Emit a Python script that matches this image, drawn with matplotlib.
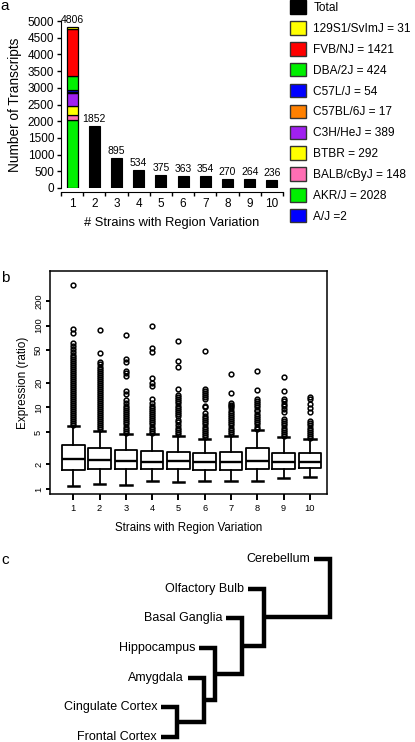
import numpy as np
import matplotlib
matplotlib.use("Agg")
import matplotlib.pyplot as plt
from matplotlib.patches import Patch

plt.rcParams['font.family'] = ['Liberation Sans', 'DejaVu Sans']

# ---- panel a data ----
n_strains = list(range(1, 11))
totals = [4806, 1852, 895, 534, 375, 363, 354, 270, 264, 236]
# strain-specific composition of bar 1, stacked bottom -> top
strain_names = ["A/J", "AKR/J", "BALB/cByJ", "BTBR", "C3H/HeJ",
                "C57BL/6J", "C57L/J", "DBA/2J", "FVB/NJ", "129S1/SvImJ"]
strain_counts = [2, 2028, 148, 292, 389, 17, 54, 424, 1421, 31]
strain_colors = ["#0000FF", "#00F000", "#FF6EB4", "#FFFF00", "#A020F0",
                 "#FF8000", "#0000FF", "#00F000", "#FF0000", "#FFFF00"]
legend_labels = ["Total", "129S1/SvImJ = 31", "FVB/NJ = 1421", "DBA/2J = 424",
                 "C57L/J = 54", "C57BL/6J = 17", "C3H/HeJ = 389", "BTBR = 292",
                 "BALB/cByJ = 148", "AKR/J = 2028", "A/J =2"]

# ---- panel b data (box stats) ----
q1 = [1.71, 1.77, 1.77, 1.74, 1.74, 1.71, 1.73, 1.74, 1.74, 1.80]
med = [2.31, 2.26, 2.20, 2.16, 2.18, 2.14, 2.13, 2.22, 2.12, 2.14]
q3 = [3.46, 3.15, 3.00, 2.92, 2.84, 2.76, 2.86, 3.17, 2.76, 2.73]
whis_lo = [1.10, 1.16, 1.12, 1.25, 1.21, 1.25, 1.26, 1.25, 1.35, 1.39]
whis_hi = [5.9, 5.12, 4.7, 4.7, 4.45, 4.1, 4.5, 5.3, 4.3, 4.05]
fliers = [
    [6.1, 6.4, 6.8, 7.2, 7.6, 8.0, 8.5, 9.0, 9.5, 10.1, 10.7, 11.3, 12.0, 12.7,
     13.4, 14.2, 15.0, 15.9, 16.8, 17.8, 18.8, 19.9, 21.1, 22.3, 23.6, 25.0,
     26.4, 28.0, 29.6, 31.3, 33.1, 35.0, 37.0, 39.2, 41.5, 44.0, 47.5, 51.3,
     56.3, 61.8, 81.0, 91.6, 311.0],
    [5.4, 5.7, 6.0, 6.4, 6.8, 7.2, 7.6, 8.0, 8.5, 9.0, 9.5, 10.1, 10.7, 11.3,
     12.0, 12.7, 13.4, 14.2, 15.0, 15.9, 16.8, 17.8, 18.8, 19.9, 21.1, 22.3,
     23.6, 25.0, 26.4, 28.0, 29.6, 31.3, 33.5, 35.8, 46.6, 89.0],
    [4.9, 5.2, 5.5, 5.8, 6.2, 6.6, 7.0, 7.4, 7.8, 8.3, 8.8, 9.3, 9.9, 10.5,
     11.2, 12.2, 14.5, 16.0, 23.9, 26.3, 27.6, 35.8, 38.7, 76.0],
    [4.9, 5.2, 5.5, 5.8, 6.2, 6.6, 7.0, 7.4, 7.8, 8.3, 8.8, 9.3, 9.9, 10.5,
     11.3, 12.5, 18.2, 19.8, 22.8, 47.5, 53.0, 100.0],
    [4.7, 5.0, 5.3, 5.6, 6.0, 6.6, 7.0, 7.8, 8.3, 8.8, 9.3, 9.9, 10.5, 11.2,
     11.9, 12.6, 13.4, 14.0, 16.6, 31.4, 36.6, 64.8],
    [4.3, 4.6, 4.9, 5.2, 5.5, 5.8, 6.2, 6.6, 7.0, 7.4, 7.9, 8.5, 10.1, 10.5,
     12.5, 13.3, 14.1, 15.0, 15.9, 16.9, 48.5],
    [4.7, 5.0, 5.3, 5.6, 6.0, 6.4, 6.8, 7.2, 7.6, 8.1, 8.6, 9.1, 9.7, 10.3,
     10.8, 11.4, 15.0, 25.3],
    [5.5, 5.8, 6.2, 6.6, 7.0, 7.4, 7.9, 8.4, 8.9, 9.4, 10.0, 10.6, 11.2, 11.8,
     12.5, 16.3, 27.6],
    [4.4, 4.7, 5.0, 5.3, 5.6, 6.0, 6.4, 6.8, 7.25, 8.8, 9.5, 10.5, 11.0, 11.8,
     12.5, 16.0, 23.3],
    [4.2, 4.4, 4.7, 5.0, 5.3, 5.6, 6.0, 6.4, 6.9, 8.8, 9.9, 11.0, 12.5, 13.3],
]
b_yticks = [1, 2, 5, 10, 20, 50, 100, 200]

# ---- panel c data (dendrogram) ----
leaves = ["Cerebellum", "Olfactory Bulb", "Basal Ganglia", "Hippocampus",
          "Amygdala", "Cingulate Cortex", "Frontal Cortex"]
# merges: (child a, child b, height); ints are leaves, "nK" earlier merges
merges = [(6, 5, 16), ("n0", 4, 43), ("n1", 3, 54), ("n2", 2, 81),
          ("n3", 1, 103), ("n4", 0, 169)]
hang = 16

W, H = 415, 742
fig = plt.figure(figsize=(W / 100, H / 100), dpi=100)


def box(l, t, r, b):
    return [l / W, 1 - b / H, (r - l) / W, (b - t) / H]


# ================= panel a =================
ax = fig.add_axes(box(61, 21, 283, 188))
ax.bar(n_strains[1:], totals[1:], width=0.5, color="black", edgecolor="black", lw=0.8)
bottom = 0
for cnt, col in zip(strain_counts, strain_colors):
    ax.bar(n_strains[0], cnt, bottom=bottom, width=0.5, color=col,
           edgecolor="black", lw=0.9)
    bottom += cnt
for x, v in zip(n_strains, totals):
    ax.annotate(str(v), (x, v), xytext=(0, 1.5), textcoords="offset points",
                ha="center", va="bottom", fontsize=7.5)
ax.set_xlim(0.5, 10.5)
ax.set_ylim(0, 5000)
for s in ["top", "right"]:
    ax.spines[s].set_visible(False)
ax.spines["bottom"].set_position(("outward", 3))
ax.spines["left"].set_bounds(0, 5000)
ax.set_yticks(np.arange(0, 5001, 500))
ax.set_xticks(n_strains)
ax.set_xticks(np.arange(0.5, 10.6, 1), minor=True)
ax.tick_params(axis="x", which="major", length=0, pad=4, labelsize=8.5)
ax.tick_params(axis="x", which="minor", length=3, width=1)
ax.tick_params(axis="y", length=3, width=1, labelsize=8.5, pad=2)
ax.set_xlabel("# Strains with Region Variation", fontsize=9.3, labelpad=5)
ax.set_ylabel("Number of Transcripts", fontsize=9.8, labelpad=4)

handles = [Patch(facecolor="black", edgecolor="black")]
for col in strain_colors[::-1]:
    handles.append(Patch(facecolor=col, edgecolor="#333333", lw=1))
fig.legend(handles, legend_labels, loc="upper left",
           bbox_to_anchor=(290 / W, 1 - 0.5 / H), frameon=False,
           fontsize=8.6, handlelength=1.35, handleheight=1.35,
           labelspacing=0.6, handletextpad=0.6, borderpad=0, borderaxespad=0)

fig.text(5 / W, 1 - 6 / H, "a", fontsize=11, ha="center", va="center")

# ================= panel b =================
bx = fig.add_axes(box(50, 271, 327, 494))
stats = []
for i in range(10):
    stats.append(dict(med=med[i], q1=q1[i], q3=q3[i], whislo=whis_lo[i],
                      whishi=whis_hi[i], fliers=fliers[i]))
lw_b = 1.3
bx.bxp(stats, positions=n_strains, widths=0.86, showfliers=True,
       boxprops=dict(color="black", lw=lw_b),
       medianprops=dict(color="black", lw=lw_b + 0.4),
       whiskerprops=dict(color="black", lw=lw_b),
       capprops=dict(color="black", lw=lw_b + 0.5),
       flierprops=dict(marker="o", markersize=3.4, markerfacecolor="none",
                       markeredgecolor="black", markeredgewidth=1.1))
bx.set_yscale("log")
bx.set_ylim(0.87, 466)
bx.set_xlim(0.114, 10.65)
bx.set_yticks(b_yticks)
bx.set_yticklabels([str(t) for t in b_yticks], rotation=90, va="center")
bx.minorticks_off()
bx.set_xticks(n_strains)
bx.set_xticklabels([str(n) for n in n_strains])
bx.tick_params(axis="y", length=3, width=1.4, labelsize=6.7, pad=2)
bx.tick_params(axis="x", length=4, width=1.4, labelsize=6.7, pad=3)
for s in bx.spines.values():
    s.set_linewidth(1.1)
bx.set_xlabel("Strains with Region Variation", fontsize=8.3, labelpad=7)
bx.set_ylabel("Expression (ratio)", fontsize=8.5, labelpad=4)
fig.text(5 / W, 1 - 278 / H, "b", fontsize=11, ha="center", va="center")

# ================= panel c =================
cx = fig.add_axes(box(0, 545, 415, 742))
cx.axis("off")
cx.set_xlim(-161, 254)
cx.set_ylim(6.17, -0.47)
lw_c = 3.2
pos = {}
for k, (a, b, h) in enumerate(merges):
    pts = []
    for child in (a, b):
        if isinstance(child, int):
            cy, cxx = child, h - hang
            cx.text(cxx - 4, cy, leaves[child], ha="right", va="center", fontsize=9)
        else:
            cxx, cy = pos[child]
        pts.append((cxx, cy))
    xs = [pts[0][0], h, h, pts[1][0]]
    ys = [pts[0][1], pts[0][1], pts[1][1], pts[1][1]]
    cx.plot(xs, ys, color="black", lw=lw_c, solid_joinstyle="miter",
            solid_capstyle="butt", clip_on=False)
    pos["n%d" % k] = (h, (pts[0][1] + pts[1][1]) / 2)
fig.text(5 / W, 1 - 560 / H, "c", fontsize=11, ha="center", va="center")

fig.savefig("out.png", dpi=100)
